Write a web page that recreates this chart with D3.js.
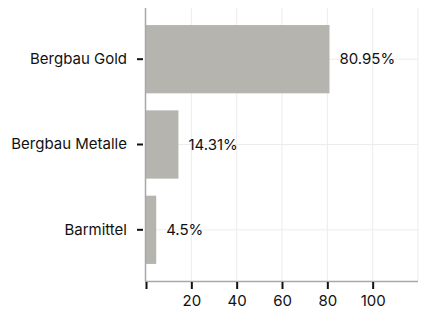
<!DOCTYPE html>
<html><head><meta charset="utf-8">
<script src="https://cdn.jsdelivr.net/npm/d3@7"></script>
<style>body{margin:0;background:#fff}svg{display:block}text{font-family:Inter,sans-serif}</style>
</head><body><svg id="c" width="422" height="314"></svg>
<script>
const categories = ["Bergbau Gold", "Bergbau Metalle", "Barmittel"];
const values = [80.95, 14.31, 4.5];
const valueLabels = ["80.95%", "14.31%", "4.5%"];
const xTicks = [0, 20, 40, 60, 80, 100];
const gridTicks = [20, 40, 60, 80, 100, 120];

(function () {
const svg = d3.select("#c");
const mLeft = 146, mRight = 418, mTop = 8, mBottom = 281;
const fs = 15;
const x = d3.scaleLinear().domain([0, 120]).range([mLeft, mRight]);
const y = d3.scaleBand().domain(categories).range([mTop, mBottom]).paddingInner(0.2).paddingOuter(0.2);

// grid
svg.append("g").selectAll("line").data(gridTicks).join("line")
  .attr("x1", d => x(d)).attr("x2", d => x(d)).attr("y1", mTop).attr("y2", mBottom)
  .attr("stroke", "#ececec").attr("stroke-width", 1);
svg.append("g").selectAll("line").data(categories).join("line")
  .attr("x1", mLeft).attr("x2", mRight).attr("y1", d => y(d) + y.bandwidth()/2).attr("y2", d => y(d) + y.bandwidth()/2)
  .attr("stroke", "#ececec").attr("stroke-width", 1);

// bars
svg.append("g").selectAll("rect").data(values).join("rect")
  .attr("x", x(0)).attr("y", (d, i) => y(categories[i]))
  .attr("width", d => x(d) - x(0)).attr("height", y.bandwidth())
  .attr("fill", "#b5b4af");

// value labels
svg.append("g").selectAll("text").data(values).join("text")
  .attr("x", d => x(d) + 10).attr("y", (d, i) => y(categories[i]) + y.bandwidth()/2)
  .attr("dy", "0.35em").attr("font-size", fs).attr("fill", "#111")
  .text((d, i) => valueLabels[i]);

// axes lines
svg.append("line").attr("x1", mLeft - 0.5).attr("x2", mLeft - 0.5).attr("y1", mTop).attr("y2", mBottom + 0.5)
  .attr("stroke", "#a8a8a8").attr("stroke-width", 1.5);
svg.append("line").attr("x1", mLeft - 1).attr("x2", mRight).attr("y1", mBottom + 0.5).attr("y2", mBottom + 0.5)
  .attr("stroke", "#a8a8a8").attr("stroke-width", 1.5);

// y axis
const yAxis = d3.axisLeft(y).tickSize(6).tickPadding(10);
const gy = svg.append("g").attr("transform", `translate(${mLeft - 3},0)`).call(yAxis);
gy.select(".domain").remove();
gy.selectAll(".tick line").attr("stroke", "#111").attr("stroke-width", 2);
gy.selectAll(".tick text").attr("font-size", fs).attr("fill", "#111").attr("font-family", "Inter, sans-serif");

// x axis
const xAxis = d3.axisBottom(x).tickValues(xTicks).tickSize(7).tickPadding(6).tickFormat(d => d === 0 ? "" : d);
const gx = svg.append("g").attr("transform", `translate(0,${mBottom + 1})`).call(xAxis);
gx.select(".domain").remove();
gx.selectAll(".tick line").attr("stroke", "#111").attr("stroke-width", 2);
gx.selectAll(".tick text").attr("font-size", fs).attr("fill", "#111").attr("font-family", "Inter, sans-serif");
})();
</script></body></html>
